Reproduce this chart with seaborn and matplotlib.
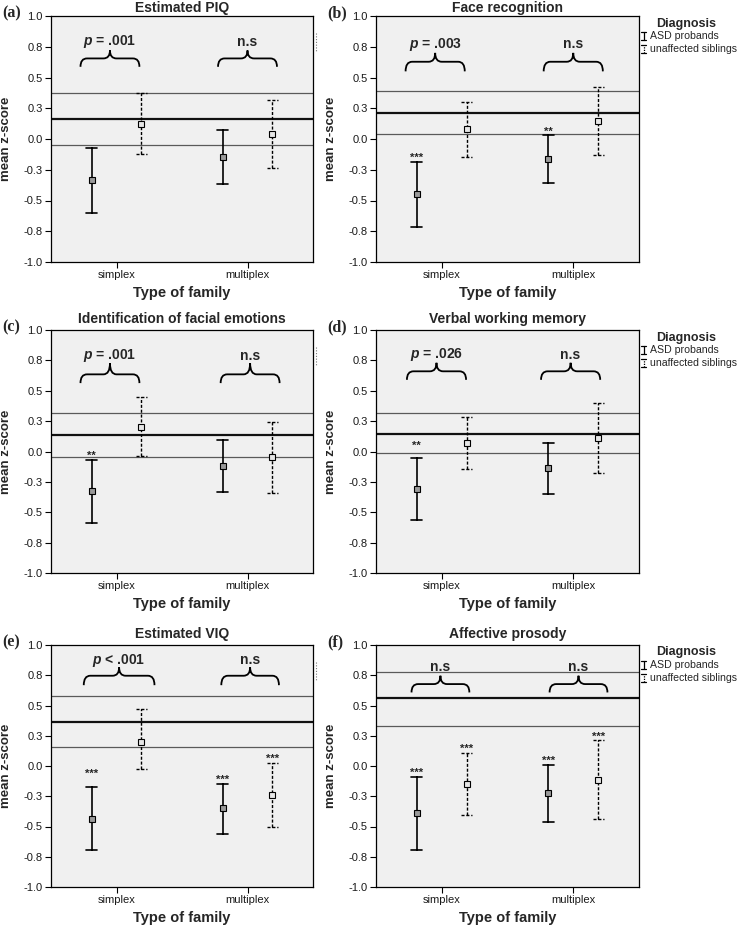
import numpy as np
import pandas as pd
import matplotlib
matplotlib.use("Agg")
import matplotlib.pyplot as plt
from matplotlib.path import Path
from matplotlib.patches import PathPatch
import seaborn as sns

# ---------------- data ----------------
categories = ["simplex", "multiplex"]
diagnoses = ["ASD probands", "unaffected siblings"]
titles = ["Estimated PIQ", "Face recognition", "Identification of facial emotions",
          "Verbal working memory", "Estimated VIQ", "Affective prosody"]
panel_letters = ["(a)", "(b)", "(c)", "(d)", "(e)", "(f)"]
ytick_values = [-1.0, -0.75, -0.5, -0.25, 0.0, 0.25, 0.5, 0.75, 1.0]
ytick_labels = ["-1.0", "-0.8", "-0.5", "-0.3", "0.0", "0.3", "0.5", "0.8", "1.0"]

# per panel: [simplex, multiplex]
asd_mean = [[-0.337, -0.147], [-0.448, -0.166], [-0.328, -0.123],
            [-0.306, -0.139], [-0.434, -0.351], [-0.392, -0.224]]
asd_low = [[-0.598, -0.367], [-0.715, -0.361], [-0.587, -0.336],
           [-0.563, -0.352], [-0.696, -0.561], [-0.696, -0.461]]
asd_high = [[-0.073, 0.071], [-0.185, 0.030], [-0.066, 0.093],
            [-0.052, 0.071], [-0.171, -0.146], [-0.091, 0.011]]
sib_mean = [[0.125, 0.043], [0.079, 0.149], [0.202, -0.046],
            [0.068, 0.109], [0.202, -0.240], [-0.146, -0.113]]
sib_low = [[-0.125, -0.236], [-0.147, -0.128], [-0.036, -0.339],
           [-0.145, -0.180], [-0.028, -0.506], [-0.409, -0.439]]
sib_high = [[0.370, 0.320], [0.299, 0.421], [0.445, 0.246],
            [0.281, 0.396], [0.475, 0.028], [0.110, 0.213]]

# control reference band (upper, mean, lower)
ref_upper = [0.370, 0.391, 0.317, 0.317, 0.580, 0.779]
ref_mean = [0.163, 0.215, 0.137, 0.148, 0.365, 0.558]
ref_lower = [-0.052, 0.041, -0.044, -0.016, 0.155, 0.331]

p_labels = [["$p$ = .001", "n.s"], ["$p$ = .003", "n.s"], ["$p$ = .001", "n.s"],
            ["$p$ = .026", "n.s"], ["$p$ < .001", "n.s"], ["n.s", "n.s"]]
asd_stars = [["", ""], ["***", "**"], ["**", ""], ["**", ""], ["***", "***"], ["***", "***"]]
sib_stars = [["", ""], ["", ""], ["", ""], ["", ""], ["", "***"], ["***", "***"]]

# ---------------- style ----------------
sns.set_style("ticks")
plt.rcParams["font.family"] = ["Liberation Sans", "DejaVu Sans"]
plt.rcParams["mathtext.fontset"] = "custom"
plt.rcParams["mathtext.it"] = "Liberation Sans:italic:bold"
plt.rcParams["mathtext.rm"] = "Liberation Sans:bold"

W, H = 738, 927
fig = plt.figure(figsize=(W / 100, H / 100), dpi=100)

col_left = [51, 376]
col_width = [262, 263]
row_top = [16, 330, 645]
row_bottom = [262, 573, 887]

# layout of braces: (end, arc, tip, text) in data units
brace_y = [(0.587, 0.655, 0.72, 0.79), (0.55, 0.628, 0.70, 0.77),
           (0.563, 0.635, 0.727, 0.79), (0.59, 0.66, 0.73, 0.795),
           (0.668, 0.746, 0.815, 0.875), (0.608, 0.677, 0.746, 0.815)]
brace_cx = [[-0.05, 1.0], [-0.05, 1.0], [-0.05, 1.02], [-0.04, 0.98],
            [0.02, 1.02], [-0.01, 1.04]]
brace_half = [[0.225, 0.225], [0.225, 0.225], [0.225, 0.225], [0.225, 0.225],
              [0.27, 0.22], [0.22, 0.22]]
star_extra = {(3, 0): 0.065, (4, 0): 0.075}


def draw_brace(ax, xc, half, y_end, y_arc, y_tip):
    r = 0.05
    verts = [(xc - half, y_end), (xc - half, y_arc), (xc - half + r, y_arc),
             (xc - r, y_arc),
             (xc, y_arc), (xc, y_tip),
             (xc, y_arc), (xc + r, y_arc),
             (xc + half - r, y_arc),
             (xc + half, y_arc), (xc + half, y_end)]
    codes = [Path.MOVETO, Path.CURVE3, Path.CURVE3, Path.LINETO,
             Path.CURVE3, Path.CURVE3, Path.CURVE3, Path.CURVE3,
             Path.LINETO, Path.CURVE3, Path.CURVE3]
    ax.add_patch(PathPatch(Path(verts, codes), fill=False, lw=1.3,
                           edgecolor="black", zorder=4, clip_on=False))


for i in range(6):
    row, col = divmod(i, 2)
    left = col_left[col]
    width = col_width[col]
    top, bottom = row_top[row], row_bottom[row]
    ax = fig.add_axes([left / W, 1 - bottom / H, width / W, (bottom - top) / H])

    recs = []
    for j, fam in enumerate(categories):
        for v in (asd_low[i][j], asd_mean[i][j], asd_high[i][j]):
            recs.append({"family": fam, "diagnosis": diagnoses[0], "z": v})
        for v in (sib_low[i][j], sib_mean[i][j], sib_high[i][j]):
            recs.append({"family": fam, "diagnosis": diagnoses[1], "z": v})
    df = pd.DataFrame(recs)

    sns.pointplot(data=df, x="family", y="z", hue="diagnosis",
                  order=categories, hue_order=diagnoses,
                  estimator="median", errorbar=lambda v: (np.min(v), np.max(v)),
                  dodge=0.38, palette=["black", "black"], markers="s",
                  linestyle="none", capsize=0.085,
                  err_kws={"linewidth": 1.2}, markersize=4.5,
                  markeredgewidth=0.8, legend=False, ax=ax)

    for line in ax.lines:
        x = np.asarray(line.get_xdata(), dtype=float)
        mk = line.get_marker()
        if mk not in (None, "None", "", " "):
            off = x[0] - round(x[0])
            line.set_zorder(6)
            line.set_markeredgecolor("black")
            line.set_markerfacecolor("#9a9a9a" if off < 0 else "#e6e6e6")
        else:
            xm = np.nanmean(x)
            off = xm - round(xm)
            if off > 0:
                line.set_linestyle((0, (2.2, 1.3)))
                line.set_linewidth(1.0)

    # control reference band
    ax.axhline(ref_upper[i], color="#5a5a5a", lw=0.9, zorder=1)
    ax.axhline(ref_mean[i], color="#111111", lw=1.6, zorder=1)
    ax.axhline(ref_lower[i], color="#5a5a5a", lw=0.9, zorder=1)

    # significance stars
    for j in range(2):
        for k, stars, highs in ((0, asd_stars, asd_high), (1, sib_stars, sib_high)):
            s = stars[i][j]
            if s:
                xpos = j + (-0.19 if k == 0 else 0.19)
                y = highs[i][j] + 0.006 + star_extra.get((i, j), 0.0) * (k == 0)
                ax.text(xpos, y, s, ha="center", va="baseline", fontsize=8,
                        fontweight="bold", zorder=7)

    # braces + p labels
    ye, ya, yt, ytx = brace_y[i]
    for j in range(2):
        xc = brace_cx[i][j]
        draw_brace(ax, xc, brace_half[i][j], ye, ya, yt)
        ax.text(xc, ytx, p_labels[i][j], ha="center", va="center",
                fontsize=10, fontweight="bold", zorder=7)

    ax.set_xlim(-0.5, 1.5)
    ax.set_ylim(-1.0, 1.0)
    ax.set_yticks(ytick_values)
    ax.set_yticklabels(ytick_labels)
    ax.set_facecolor("#f0f0f0")
    for sp in ax.spines.values():
        sp.set_visible(True)
        sp.set_color("black")
        sp.set_linewidth(0.9)
    ax.tick_params(axis="both", direction="out", length=4, width=0.8,
                   color="black", labelsize=8, labelcolor="#1a1a1a", pad=2)

    ax.set_title(titles[i], fontsize=10, fontweight="bold",
                 pad=3 if row == 0 else 5)
    ax.set_ylabel("mean z-score", fontsize=9.5, fontweight="bold")
    ax.yaxis.set_label_coords(-39 / width, 0.5)
    ax.set_xlabel("Type of family", fontsize=10.5, fontweight="bold")
    ax.xaxis.set_label_coords(0.5, -24 / (bottom - top))

    fig.text((2 if col == 0 else 327) / W, 1 - (top - 3) / H, panel_letters[i],
             family=["Liberation Serif", "DejaVu Serif"], fontweight="bold",
             fontsize=11.5, ha="left", va="center")

    if col == 0:
        ax.plot([1.012, 1.012], [0.93, 0.855], transform=ax.transAxes,
                ls=(0, (1, 1.5)), color="#777777", lw=0.8, clip_on=False)
    else:
        hgt = bottom - top
        ax.text(1.181, 1 - 7.5 / hgt, "Diagnosis", transform=ax.transAxes,
                ha="center", va="center", fontsize=9, fontweight="bold")
        for k, lab in enumerate(diagnoses):
            yc = 1 - (20.3 + 12.4 * k) / hgt
            gx = 1.019
            dy = 4 / hgt
            cw = 2.5 / width
            ls = "-" if k == 0 else (0, (1, 1))
            ax.plot([gx, gx], [yc - dy, yc + dy], transform=ax.transAxes,
                    color="black", lw=0.9, ls=ls, clip_on=False)
            ax.plot([gx - cw, gx + cw], [yc + dy, yc + dy], transform=ax.transAxes,
                    color="black", lw=0.9, clip_on=False)
            ax.plot([gx - cw, gx + cw], [yc - dy, yc - dy], transform=ax.transAxes,
                    color="black", lw=0.9, clip_on=False)
            ax.text(1.040, yc, lab, transform=ax.transAxes, ha="left",
                    va="center", fontsize=7.6)

fig.savefig("out.png", dpi=100, facecolor="white")
